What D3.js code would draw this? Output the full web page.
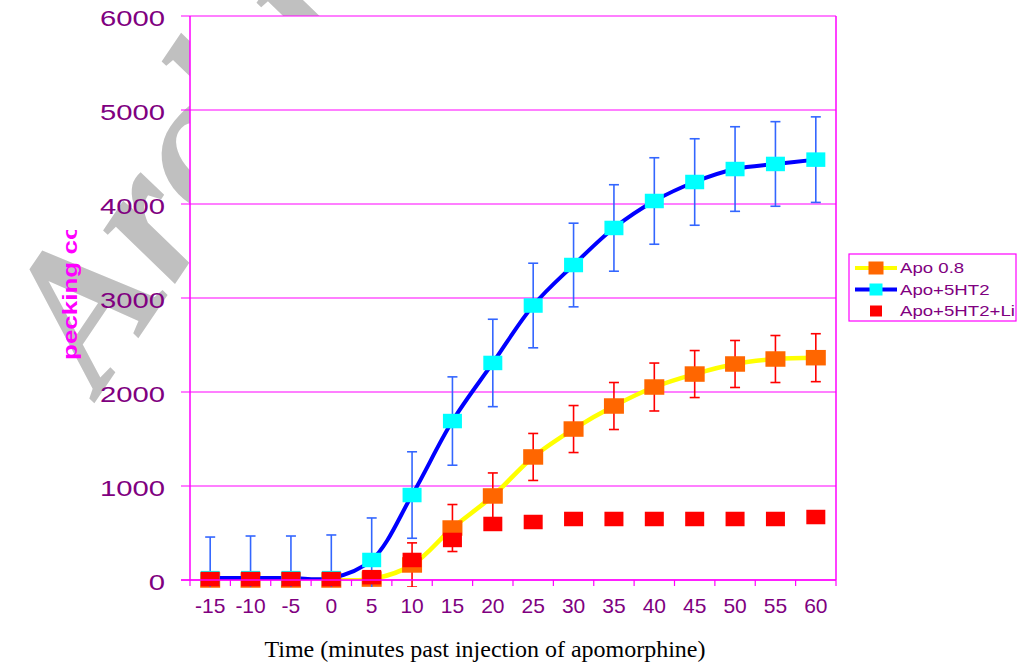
<!DOCTYPE html>
<html>
<head>
<meta charset="utf-8">
<script src="https://cdn.jsdelivr.net/npm/d3@7"></script>
<style>
  html, body { margin: 0; padding: 0; background: #fff; }
  svg { display: block; }
</style>
</head>
<body>
<script>
// ---------------- data ----------------
const categories = ["-15","-10","-5","0","5","10","15","20","25","30","35","40","45","50","55","60"];
const apo08      = [0, 0, 0, 0, 10, 160, 553, 894, 1309, 1606, 1851, 2053, 2191, 2298, 2351, 2365];
const apo08Err   = [0, 0, 0, 0, 0, 235, 250, 245, 250, 250, 250, 255, 250, 250, 250, 255];
const apo5ht2    = [20, 20, 20, 20, 213, 904, 1691, 2309, 2920, 3351, 3745, 4032, 4234, 4372, 4426, 4472];
const apo5ht2Err = [437, 448, 448, 459, 447, 460, 470, 465, 450, 445, 460, 460, 460, 450, 450, 455];
const apo5ht2Li  = [10, 10, 10, 10, 30, 213, 426, 596, 617, 649, 649, 649, 649, 649, 649, 670];
const yTicks     = [0, 1000, 2000, 3000, 4000, 5000, 6000];
const seriesNames = ["Apo 0.8", "Apo+5HT2", "Apo+5HT2+Li"];
const xTitle = "Time (minutes past injection of apomorphine)";
const yTitle = "pecking co";
const watermark = "Archive of SID";

// ---------------- layout ----------------
const W = 1017, H = 666;
const L = 190, R = 836, T = 16, B = 580;
const MAG = "#FF00FF", PURPLE = "#800080";

const svg = d3.select("body").append("svg").attr("width", W).attr("height", H);
svg.append("rect").attr("width", W).attr("height", H).attr("fill", "#fff");

const defs = svg.append("defs");
defs.append("clipPath").attr("id", "plotClip").append("rect")
  .attr("x", L).attr("y", T).attr("width", R - L).attr("height", B - T);
defs.append("clipPath").attr("id", "errClip").append("rect")
  .attr("x", L).attr("y", T).attr("width", R - L).attr("height", B - T + 7);
defs.append("clipPath").attr("id", "ytClip").append("rect")
  .attr("x", 0).attr("y", 230).attr("width", 180).attr("height", 300);

// watermark (behind plot area)
svg.append("text")
  .attr("transform", "translate(100,395) rotate(-56)")
  .attr("font-family", "Liberation Serif, 'Times New Roman', serif")
  .attr("font-style", "italic").attr("font-weight", "bold")
  .attr("font-size", 195).attr("fill", "#C0C0C0")
  .text(watermark);

// plot area
svg.append("rect").attr("x", L).attr("y", T).attr("width", R - L).attr("height", B - T)
  .attr("fill", "#fff");

const x = d3.scaleBand().domain(categories).range([L, R]).padding(0);
const y = d3.scaleLinear().domain([0, 6000]).range([B, T]);
const cx = c => x(c) + x.bandwidth() / 2;

// gridlines + y ticks
svg.append("g").selectAll("line").data(yTicks).join("line")
  .attr("x1", L - 9).attr("x2", R).attr("y1", d => y(d)).attr("y2", d => y(d))
  .attr("stroke", MAG).attr("stroke-width", 1.2);

// right border & left axis
svg.append("line").attr("x1", R).attr("x2", R).attr("y1", T).attr("y2", B)
  .attr("stroke", MAG).attr("stroke-width", 1.5);
svg.append("line").attr("x1", L).attr("x2", L).attr("y1", T).attr("y2", B)
  .attr("stroke", MAG).attr("stroke-width", 1.5);

// y tick labels
svg.append("g").selectAll("text").data(yTicks).join("text")
  .attr("transform", d => `translate(165,${y(d) + 10}) scale(1.33,1)`)
  .attr("text-anchor", "end")
  .attr("font-family", "Liberation Sans, Arial, sans-serif")
  .attr("font-size", 22).attr("fill", PURPLE)
  .text(d => d);

// x ticks (between categories)
const bounds = d3.range(categories.length + 1).map(i => L + i * x.bandwidth());
svg.append("g").selectAll("line").data(bounds).join("line")
  .attr("x1", d => d).attr("x2", d => d).attr("y1", B).attr("y2", B + 6)
  .attr("stroke", MAG).attr("stroke-width", 1.2);

// x tick labels
svg.append("g").selectAll("text").data(categories).join("text")
  .attr("x", d => cx(d)).attr("y", 613)
  .attr("text-anchor", "middle")
  .attr("font-family", "Liberation Sans, Arial, sans-serif")
  .attr("font-size", 21).attr("fill", PURPLE)
  .text(d => d);

// axis titles
svg.append("text").attr("x", 485).attr("y", 657).attr("text-anchor", "middle")
  .attr("font-family", "Liberation Serif, 'Times New Roman', serif")
  .attr("font-size", 24).attr("fill", "#000").text(xTitle);

svg.append("g").attr("clip-path", "url(#ytClip)").append("text")
  .attr("transform", "translate(77,360) rotate(-90) scale(1.3,1)")
  .attr("font-family", "Liberation Sans, Arial, sans-serif")
  .attr("font-weight", "bold").attr("font-size", 20).attr("fill", MAG)
  .text(yTitle);

// ---------------- series ----------------
const lineGen = d3.line().x((d, i) => cx(categories[i])).y(d => y(d))
  .curve(d3.curveCatmullRom.alpha(0.5));

function errorBars(vals, errs, color) {
  const g = svg.append("g").attr("clip-path", "url(#errClip)");
  const data = vals.map((v, i) => ({ c: categories[i], v, e: errs[i] })).filter(d => d.e > 0);
  g.selectAll("line.v").data(data).join("line")
    .attr("x1", d => cx(d.c)).attr("x2", d => cx(d.c))
    .attr("y1", d => y(d.v + d.e)).attr("y2", d => y(d.v - d.e))
    .attr("stroke", color).attr("stroke-width", 1.6);
  g.selectAll("line.t").data(data).join("line")
    .attr("x1", d => cx(d.c) - 5).attr("x2", d => cx(d.c) + 5)
    .attr("y1", d => y(d.v + d.e)).attr("y2", d => y(d.v + d.e))
    .attr("stroke", color).attr("stroke-width", 1.6);
  g.selectAll("line.b").data(data).join("line")
    .attr("x1", d => cx(d.c) - 5).attr("x2", d => cx(d.c) + 5)
    .attr("y1", d => y(d.v - d.e)).attr("y2", d => y(d.v - d.e))
    .attr("stroke", color).attr("stroke-width", 1.6);
}
function markers(vals, color, w, h) {
  svg.append("g").selectAll("rect").data(vals).join("rect")
    .attr("x", (d, i) => cx(categories[i]) - w / 2)
    .attr("y", d => y(d) - h / 2)
    .attr("width", w).attr("height", h).attr("fill", color);
}

// Series 1: Apo 0.8
svg.append("path").attr("clip-path", "url(#plotClip)").datum(apo08)
  .attr("d", lineGen).attr("fill", "none").attr("stroke", "#FFFF00").attr("stroke-width", 4.5);
errorBars(apo08, apo08Err, "#FF0000");
markers(apo08, "#FF6600", 20, 15.5);

// Series 2: Apo+5HT2
svg.append("path").attr("clip-path", "url(#plotClip)").datum(apo5ht2)
  .attr("d", lineGen).attr("fill", "none").attr("stroke", "#0000FF").attr("stroke-width", 4);
errorBars(apo5ht2, apo5ht2Err, "#3366FF");
markers(apo5ht2, "#00FFFF", 19, 14.5);

// Series 3: Apo+5HT2+Li (markers only)
markers(apo5ht2Li, "#FF0000", 19, 14.5);

// bottom axis line on top
svg.append("line").attr("x1", L - 9).attr("x2", R).attr("y1", B).attr("y2", B)
  .attr("stroke", MAG).attr("stroke-width", 1.5);

// ---------------- legend ----------------
const lg = svg.append("g");
lg.append("rect").attr("x", 849).attr("y", 254).attr("width", 167).attr("height", 67)
  .attr("fill", "#fff").attr("stroke", MAG).attr("stroke-width", 1.2);
const legendItems = [
  { name: seriesNames[0], line: "#FFFF00", fill: "#FF6600", w: 15, h: 13 },
  { name: seriesNames[1], line: "#0000FF", fill: "#00FFFF", w: 13, h: 12 },
  { name: seriesNames[2], line: null, fill: "#FF0000", w: 12, h: 11 }
];
legendItems.forEach((it, i) => {
  const yy = 268 + i * 21.5;
  if (it.line) lg.append("line").attr("x1", 855).attr("x2", 897).attr("y1", yy).attr("y2", yy)
    .attr("stroke", it.line).attr("stroke-width", 4);
  lg.append("rect").attr("x", 876 - it.w / 2).attr("y", yy - it.h / 2)
    .attr("width", it.w).attr("height", it.h).attr("fill", it.fill);
  lg.append("text").attr("transform", `translate(900,${yy + 5}) scale(1.33,1)`)
    .attr("font-family", "Liberation Sans, Arial, sans-serif")
    .attr("font-size", 14).attr("fill", PURPLE).text(it.name);
});
</script>
</body>
</html>
